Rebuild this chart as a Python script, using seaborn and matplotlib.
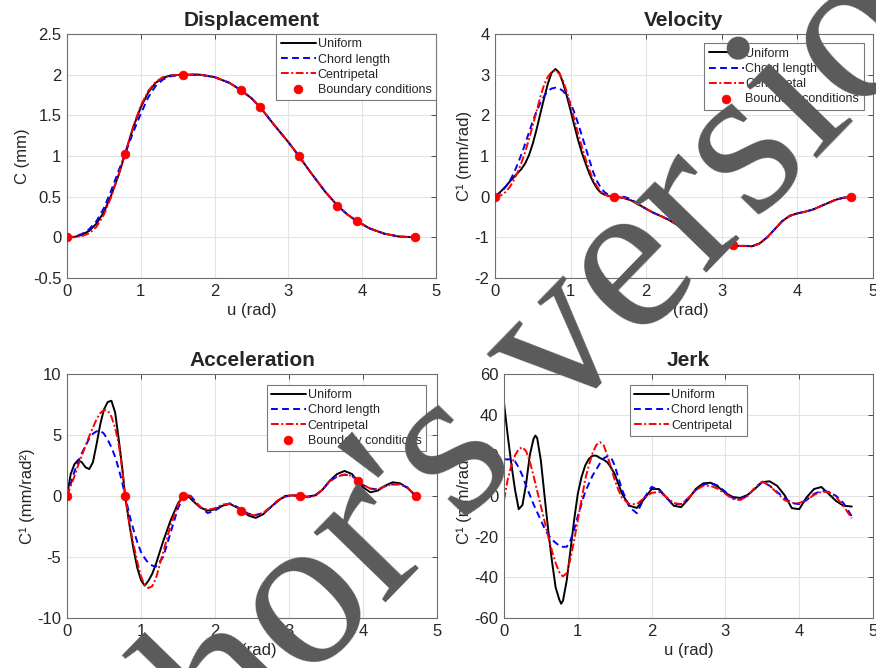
import numpy as np
import pandas as pd
import matplotlib
matplotlib.use("Agg")
import matplotlib.pyplot as plt
import seaborn as sns
from matplotlib.ticker import FuncFormatter

# ---- data ----
# Displacement
u_disp = [0, .1, .2, .3, .4, .5, .6, .7, .785, .9, 1.0, 1.1, 1.2, 1.3, 1.4, 1.571, 1.8, 2.0,
          2.2, 2.356, 2.5, 2.618, 2.8, 3.0, 3.142, 3.3, 3.5, 3.665, 3.8, 3.927, 4.1, 4.3, 4.5, 4.712]
disp_uniform = [0, .005, .03, .08, .17, .31, .52, .77, 1.02, 1.36, 1.6, 1.78, 1.9, 1.96, 1.99, 2.0,
                2.0, 1.97, 1.9, 1.81, 1.71, 1.6, 1.39, 1.17, 1.0, .8, .56, .39, .28, .2, .11, .045, .01, 0]
disp_chord = [0, .01, .04, .1, .2, .36, .58, .82, 1.02, 1.3, 1.52, 1.72, 1.86, 1.94, 1.98, 2.0,
              2.0, 1.97, 1.9, 1.81, 1.71, 1.6, 1.39, 1.17, 1.0, .8, .56, .39, .28, .2, .11, .045, .01, 0]
disp_centri = [0, .002, .015, .05, .13, .28, .5, .77, 1.02, 1.37, 1.62, 1.8, 1.91, 1.97, 1.99, 2.0,
               2.0, 1.97, 1.9, 1.81, 1.71, 1.6, 1.39, 1.17, 1.0, .8, .56, .39, .28, .2, .11, .045, .01, 0]
u_disp_bc = [0, 0.785, 1.571, 2.356, 2.618, 3.142, 3.665, 3.927, 4.712]
disp_bc = [0, 1.02, 2.0, 1.81, 1.6, 1.0, 0.39, 0.2, 0]

# Velocity
u_vel = [0, .05, .1, .15, .2, .25, .3, .35, .4, .45, .5, .55, .6, .65, .7, .75, .8, .85, .9, .95,
         1.0, 1.05, 1.1, 1.15, 1.2, 1.25, 1.3, 1.35, 1.4, 1.45, 1.5, 1.571,
         1.7, 1.8, 1.9, 2.0, 2.1, 2.2, 2.3, 2.4, 2.5, 2.6, 2.7, 2.8, 2.9, 3.0, 3.142, 3.3, 3.4,
         3.5, 3.6, 3.7, 3.8, 3.9, 4.0, 4.1, 4.2, 4.3, 4.4, 4.5, 4.6, 4.712]
vel_tail = [-.03, -.09, -.19, -.3, -.4, -.48, -.57, -.68, -.81, -.95, -1.07, -1.16, -1.21, -1.23,
            -1.21, -1.21, -1.22, -1.15, -1.0, -.8, -.6, -.47, -.41, -.37, -.32, -.24, -.16, -.08, -.03, 0]
vel_uniform = [0, .08, .17, .27, .38, .48, .58, .68, .82, 1.02, 1.3, 1.65, 2.04, 2.42, 2.78, 3.05,
               3.14, 3.05, 2.8, 2.48, 2.12, 1.75, 1.39, 1.08, .81, .56, .36, .2, .1, .05, .02, 0] + vel_tail
vel_chord = [0, .07, .15, .26, .4, .58, .8, 1.04, 1.3, 1.58, 1.85, 2.1, 2.3, 2.47, 2.6, 2.66,
             2.68, 2.66, 2.6, 2.47, 2.3, 2.07, 1.8, 1.5, 1.2, .9, .6, .38, .22, .11, .05, 0,
             0, -.06] + vel_tail[2:]
vel_centri = [0, .01, .05, .13, .25, .41, .6, .83, 1.1, 1.41, 1.75, 2.1, 2.45, 2.75, 2.95, 3.07,
              3.1, 3.03, 2.85, 2.58, 2.25, 1.9, 1.55, 1.22, .92, .65, .42, .25, .12, .05, .02, 0] + vel_tail
u_vel_bc = [0, 1.571, 3.142, 4.712]
vel_bc = [0, 0, -1.2, 0]

# Acceleration
u_acc = [0, .05, .1, .15, .2, .25, .3, .35, .4, .45, .5, .55, .6, .65, .7, .75, .785, .85, .9, .95,
         1.0, 1.05, 1.1, 1.15, 1.2, 1.3, 1.4, 1.5, 1.571, 1.65, 1.7, 1.8, 1.9, 2.0, 2.1, 2.2, 2.3,
         2.356, 2.45, 2.55, 2.65, 2.75, 2.85, 2.95, 3.05, 3.142, 3.25, 3.35, 3.45, 3.55, 3.65, 3.75,
         3.85, 3.927, 4.0, 4.1, 4.2, 4.3, 4.4, 4.5, 4.6, 4.712]
acc_uniform = [0, 1.8, 2.6, 2.95, 2.76, 2.35, 2.2, 2.76, 4.26, 5.9, 7.1, 7.7, 7.8, 6.85, 4.6, 2.1, 0,
               -2.6, -4.4, -5.9, -6.9, -7.35, -6.95, -6.4, -5.6, -3.7, -2.0, -.6, 0, -.1, -.4, -.95,
               -1.2, -1.1, -.8, -.65, -.95, -1.15, -1.6, -1.8, -1.5, -.93, -.4, 0, .05, 0, -.05, .05,
               .5, 1.25, 1.8, 2.05, 1.8, 1.25, .7, .3, .44, .85, 1.12, 1.04, .66, 0]
acc_chord = [0, 1.0, 2.0, 2.8, 3.5, 4.1, 4.7, 5.1, 5.3, 5.35, 5.1, 4.6, 4.0, 3.2, 2.2, 1.0, 0,
             -1.7, -2.8, -3.8, -4.6, -5.1, -5.5, -5.7, -5.8, -5.0, -3.0, -1.0, -.1, .15, -.2, -.9,
             -1.4, -1.2, -.8, -.6, -.9, -1.15, -1.45, -1.55, -1.4, -.95, -.4, -.05, .05, 0, -.1, 0,
             .5, 1.2, 1.6, 1.75, 1.65, 1.25, .9, .6, .55, .8, .95, .95, .7, 0]
acc_centri = [0, .8, 1.6, 2.5, 3.3, 4.1, 4.9, 5.6, 6.3, 6.8, 7.05, 7.0, 6.5, 5.6, 4.2, 2.0, 0,
              -2.5, -4.0, -5.4, -6.6, -7.3, -7.55, -7.4, -6.8, -4.6, -2.4, -.7, 0, .05, -.3, -.9,
              -1.15, -1.0, -.7, -.65, -.95, -1.2, -1.5, -1.6, -1.4, -.9, -.35, 0, .05, 0, -.1, 0,
              .5, 1.2, 1.6, 1.75, 1.65, 1.25, .9, .6, .55, .8, .95, .95, .7, 0]
u_acc_bc = [0, 0.785, 1.571, 2.356, 3.142, 3.927, 4.712]
acc_bc = [0, 0, 0, -1.2, 0, 1.2, 0]

# Jerk
u_jerk = [0, .05, .1, .15, .2, .25, .3, .35, .4, .425, .45, .5, .55, .6, .65, .7, .75, .775, .8,
          .85, .9, .95, 1.0, 1.05, 1.1, 1.15, 1.2, 1.25, 1.3, 1.35, 1.4, 1.45, 1.5, 1.55, 1.6, 1.7,
          1.8, 1.9, 2.0, 2.1, 2.2, 2.3, 2.4, 2.5, 2.6, 2.7, 2.8, 2.9, 3.0, 3.1, 3.2, 3.3, 3.4, 3.5,
          3.6, 3.7, 3.8, 3.9, 4.0, 4.1, 4.2, 4.3, 4.4, 4.5, 4.6, 4.712]
jerk_uniform = [46, 30, 15.7, 3, -6.5, -4.5, 5.9, 20, 28, 29.7, 28.5, 17.4, 0, -17, -32, -45, -51,
                -53, -51.5, -41.6, -27, -12, 1, 9.2, 14.9, 18.2, 19.8, 19.8, 18.7, 17.8, 16.6, 14,
                10.8, 6, 1, -4.8, -5.9, -1.5, 3.4, 3.4, -.7, -4.8, -5.5, -1.5, 3.5, 6.2, 6.5, 4.5,
                1.5, -.5, -1, .5, 3.5, 6.8, 7.2, 5, .5, -6, -6.5, -.7, 3.4, 4.4, 1, -2.5, -4.8, -5.2]
jerk_chord = [18, 18, 18, 17, 14, 10, 5, .5, -4, -6, -8, -12, -16, -19, -21.5, -23, -24.5, -25,
              -25, -25, -22, -16.5, -10, -4, 2, 6, 10, 13, 16, 18.5, 19.5, 19, 15, 9, 3,
              -5.5, -8.5, -1, 4.5, 3, -1, -4, -4, -1, 3, 5.5, 6.5, 5, 2, -1, -1.5,
              0, 4, 7, 5, 2, -1, -3.5, -4, -2, 1, 2.5, 2, 0, -3.5, -10]
jerk_centri = [-2, 8, 15, 20, 23, 24, 22, 17, 10, 6.3, 2.5, -5, -12.5, -20, -27, -33, -37.5,
               -38.8, -39.5, -38, -31, -22, -12, -2, 8, 15, 21, 25, 26.5, 25, 20, 14, 8, 3, -1,
               -4, -4, -1, 1.5, 2, -.5, -3.5, -4, -1, 3, 5, 5, 3.5, 1, -1.5, -2,
               0, 4, 7, 5, 1.5, -2, -3.5, -3.5, -2, .5, 2, 2, -.5, -5, -11]

labels = ["Uniform", "Chord length", "Centripetal", "Boundary conditions"]

# ---- style ----
sns.set_theme(style="white")
plt.rcParams["font.family"] = ["Liberation Sans", "DejaVu Sans"]
plt.rcParams["axes.unicode_minus"] = False

fig = plt.figure(figsize=(8.76, 6.68), dpi=100)
fig.patch.set_facecolor("white")

panels = [
    dict(rect=[0.0765, 0.5838, 0.4212, 0.3653], title="Displacement", ylabel="C (mm)",
         u=u_disp, series=[disp_uniform, disp_chord, disp_centri], ubc=u_disp_bc, bc=disp_bc,
         ylim=(-0.5, 2.5), yticks=np.arange(-0.5, 2.51, 0.5),
         leg=dict(loc="upper right", borderaxespad=0.0)),
    dict(rect=[0.565, 0.5838, 0.4316, 0.3653], title="Velocity", ylabel="C\u00b9 (mm/rad)",
         u=u_vel, series=[vel_uniform, vel_chord, vel_centri], ubc=u_vel_bc, bc=vel_bc,
         ylim=(-2, 4), yticks=np.arange(-2, 4.1, 1),
         leg=dict(loc="upper right", borderaxespad=0.75)),
    dict(rect=[0.0765, 0.0749, 0.4224, 0.3653], title="Acceleration", ylabel="C\u00b9 (mm/rad\u00b2)",
         u=u_acc, series=[acc_uniform, acc_chord, acc_centri], ubc=u_acc_bc, bc=acc_bc,
         ylim=(-10, 10), yticks=np.arange(-10, 10.1, 5),
         leg=dict(loc="upper right", borderaxespad=0.88)),
    dict(rect=[0.5753, 0.0749, 0.4213, 0.3653], title="Jerk", ylabel="C\u00b9 (mm/rad\u00b3)",
         u=u_jerk, series=[jerk_uniform, jerk_chord, jerk_centri], ubc=None, bc=None,
         ylim=(-60, 60), yticks=np.arange(-60, 60.1, 20),
         leg=dict(loc="upper center", borderaxespad=0.88)),
]

line_styles = [
    dict(color="black", linestyle="-"),
    dict(color="#0000ff", linestyle=(0, (3.5, 2.2))),
    dict(color="#ff0000", linestyle=(0, (4, 1.3, 1, 1.3))),
]

fmt = FuncFormatter(lambda v, p: "%g" % round(v, 6))

for p in panels:
    ax = fig.add_axes(p["rect"])
    for vals, st, lab in zip(p["series"], line_styles, labels):
        sns.lineplot(x=p["u"], y=vals, ax=ax, lw=1.4, label=lab, sort=False,
                     estimator=None, **st)
    if p["bc"] is not None:
        sns.scatterplot(x=p["ubc"], y=p["bc"], ax=ax, color="#ff0000", marker="o", s=40,
                        edgecolor="#ff0000", linewidth=0.5, label=labels[3], zorder=5)
    ax.set_xlim(0, 5)
    ax.set_xticks(range(0, 6))
    ax.set_ylim(*p["ylim"])
    ax.set_yticks(p["yticks"])
    ax.xaxis.set_major_formatter(fmt)
    ax.yaxis.set_major_formatter(fmt)
    ax.grid(True, color="#e3e3e3", lw=0.8)
    ax.set_axisbelow(True)
    for s in ax.spines.values():
        s.set_color("#6e6e6e")
        s.set_linewidth(0.8)
    ax.tick_params(direction="in", length=3.5, width=0.7, color="#4a4a4a",
                   top=True, right=True, labelsize=12, labelcolor="#262626", pad=4)
    ax.set_title(p["title"], fontsize=15, fontweight="bold", pad=6)
    ax.set_xlabel("u (rad)", fontsize=12, color="#262626", labelpad=3)
    ax.set_ylabel(p["ylabel"], fontsize=12, color="#262626", labelpad=2)
    leg = ax.legend(fontsize=9, frameon=True, fancybox=False, framealpha=1,
                    edgecolor="#7a7a7a", handlelength=2.8, handletextpad=0.15,
                    borderpad=0.35, labelspacing=0.25, **p["leg"])
    leg.get_frame().set_linewidth(0.8)

# watermark across the figure
fig.text(0.5765, 0.2814, "Author's version", rotation=45.8, rotation_mode="anchor",
         ha="center", va="baseline", fontsize=158, family="Liberation Serif",
         color="#5a5a5a", zorder=100)

fig.savefig("out.png", dpi=100, facecolor="white")
